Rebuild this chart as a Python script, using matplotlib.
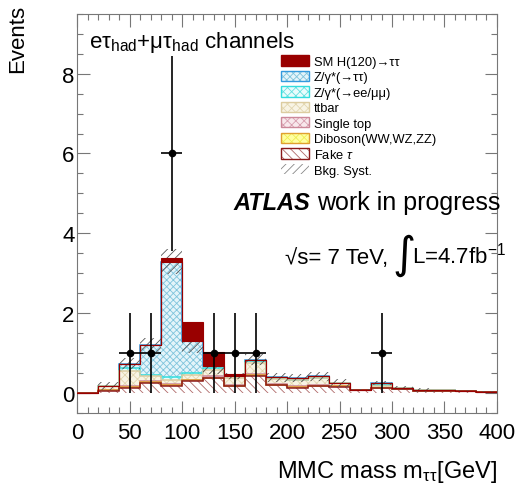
import matplotlib.pyplot as plt
import numpy as np
from matplotlib.patches import Patch
from matplotlib.ticker import MultipleLocator

plt.rcParams['font.family'] = ['Liberation Sans', 'DejaVu Sans']
plt.rcParams['mathtext.fontset'] = 'custom'
plt.rcParams['mathtext.rm'] = 'Liberation Sans'
plt.rcParams['mathtext.it'] = 'Liberation Sans:italic'
plt.rcParams['mathtext.bf'] = 'Liberation Sans:bold'
plt.rcParams['hatch.linewidth'] = 0.6

# Bins de 20 GeV entre 0 y 400
bordes = np.arange(0, 420, 20)

# Eventos esperados por bin (de abajo hacia arriba en el stack)
fake_tau = [0.01, 0.06, 0.13, 0.25, 0.17, 0.30, 0.37, 0.17, 0.44, 0.20,
            0.14, 0.18, 0.16, 0.07, 0.12, 0.10, 0.05, 0.06, 0.05, 0.04]
diboson = [0.00, 0.01, 0.03, 0.03, 0.03, 0.02, 0.02, 0.01, 0.02, 0.01,
           0.01, 0.01, 0.01, 0.00, 0.01, 0.00, 0.00, 0.00, 0.00, 0.00]
single_top = [0.00, 0.01, 0.02, 0.02, 0.02, 0.02, 0.03, 0.02, 0.03, 0.02,
              0.02, 0.02, 0.01, 0.00, 0.01, 0.01, 0.00, 0.00, 0.00, 0.00]
ttbar = [0.00, 0.10, 0.38, 0.12, 0.12, 0.12, 0.15, 0.18, 0.27, 0.12,
         0.15, 0.16, 0.08, 0.01, 0.05, 0.03, 0.04, 0.01, 0.01, 0.00]
z_ll = [0.00, 0.00, 0.06, 0.04, 0.07, 0.04, 0.05, 0.04, 0.05, 0.02,
        0.02, 0.02, 0.00, 0.00, 0.02, 0.00, 0.00, 0.00, 0.00, 0.00]
z_tautau = [0.00, 0.00, 0.12, 0.74, 2.88, 0.81, 0.06, 0.01, 0.03, 0.03,
            0.03, 0.03, 0.00, 0.00, 0.04, 0.00, 0.00, 0.00, 0.00, 0.00]
higgs = [0.00, 0.00, 0.00, 0.00, 0.10, 0.46, 0.34, 0.05, 0.00, 0.00,
         0.00, 0.00, 0.00, 0.00, 0.00, 0.00, 0.00, 0.00, 0.00, 0.00]
# Incertidumbre sistematica del fondo total
syst = [0.00, 0.11, 0.14, 0.18, 0.31, 0.30, 0.20, 0.07, 0.14, 0.11,
        0.10, 0.12, 0.10, 0.02, 0.05, 0.05, 0.05, 0.01, 0.01, 0.01]

# Datos observados
masa_datos = [50, 70, 90, 130, 150, 170, 290]
eventos_datos = [1, 1, 6, 1, 1, 1, 1]

# (valores, relleno, color del patron, patron, linea, etiqueta)
fondos = [
    (fake_tau, 'white', '#b06a6a', '\\\\\\\\', '#8b1a1a', r'Fake $\tau$'),
    (diboson, '#ffffa0', '#eeee55', 'xxxx', '#e0a030', 'Diboson(WW,WZ,ZZ)'),
    (single_top, '#f8e8ec', '#d8a0b0', 'xxxx', '#cc8899', 'Single top'),
    (ttbar, '#f8f4e4', '#e2d6b0', 'xxxx', '#dccca0', 'ttbar'),
    (z_ll, '#e8fcfc', '#66e0e0', 'xxxx', '#33dddd', 'Z/γ*(→ee/μμ)'),
    (z_tautau, '#e4f4fa', '#80c4dc', 'xxxxx', '#3399dd', 'Z/γ*(→ττ)'),
]

fig = plt.figure(figsize=(5.16, 4.89), dpi=100)
ax = fig.add_axes([0.150, 0.153, 0.813, 0.817])

base = np.zeros(len(bordes) - 1)
tapas = []
for valores, relleno, c_patron, patron, c_linea, _ in fondos:
    arriba = base + np.array(valores)
    ax.stairs(arriba, bordes, baseline=base, fill=True, facecolor=relleno,
              edgecolor=c_patron, hatch=patron, linewidth=0, zorder=2)
    tapas.append((arriba, c_linea))
    base = arriba
# Contornos de arriba hacia abajo, como en un THStack
for arriba, c_linea in reversed(tapas):
    ax.stairs(arriba, bordes, baseline=None, color=c_linea, linewidth=1.1, zorder=3)

fondo_total = base
# Banda de sistematica
ax.stairs(fondo_total + np.array(syst), bordes, baseline=fondo_total - np.array(syst),
          fill=True, facecolor='none', edgecolor='#555555', hatch='////',
          linewidth=0, zorder=4)

# Senal SM H(120) encima del fondo
ax.stairs(fondo_total + np.array(higgs), bordes, baseline=fondo_total, fill=True,
          facecolor='#990000', edgecolor='#990000', linewidth=0.8, zorder=5)

ax.errorbar(masa_datos, eventos_datos, yerr=np.sqrt(eventos_datos), xerr=10,
            fmt='o', color='black', ms=4.5, elinewidth=1.2, capsize=0, zorder=10)

ax.set_xlim(0, 400)
ax.set_ylim(-0.5, 9.5)
ax.xaxis.set_major_locator(MultipleLocator(50))
ax.xaxis.set_minor_locator(MultipleLocator(10))
ax.yaxis.set_major_locator(MultipleLocator(2))
ax.yaxis.set_minor_locator(MultipleLocator(0.5))
ax.tick_params(which='both', direction='in', top=True, right=True,
               color='#777777', width=0.8, labelsize=16)
ax.tick_params(which='major', length=9)
ax.tick_params(which='minor', length=4.5)
ax.tick_params(axis='x', pad=6)
ax.tick_params(axis='y', pad=2)
for lado in ax.spines.values():
    lado.set_color('#777777')
    lado.set_linewidth(0.8)

# Titulos de ejes
fig.text(0.963, 0.0225, r'MMC mass m$_{\mathrm{ττ}}$[GeV]', ha='right',
         va='baseline', fontsize=17)
fig.text(0.035, 0.99, 'Events', rotation=90, ha='center', va='top', fontsize=16)

# Textos dentro del grafico
ax.text(0.028, 0.916, r'eτ$_{\mathrm{had}}$+μτ$_{\mathrm{had}}$ channels',
        transform=ax.transAxes, fontsize=16, va='baseline')
ax.text(0.554, 0.511, 'ATLAS', transform=ax.transAxes, fontsize=17,
        fontweight='bold', fontstyle='italic', ha='right', va='baseline')
ax.text(0.572, 0.511, 'work in progress', transform=ax.transAxes, fontsize=18,
        va='baseline')
ax.text(0.495, 0.377, '√s= 7 TeV,', transform=ax.transAxes, fontsize=16,
        va='baseline')
ax.text(0.778, 0.366, '∫', transform=ax.transAxes, fontsize=32, ha='center',
        va='baseline', family='DejaVu Sans')
ax.text(0.797, 0.377, r'L=4.7fb$^{\mathrm{-1}}$', transform=ax.transAxes,
        fontsize=16, va='baseline')

# Leyenda
manijas = [Patch(facecolor='#990000', edgecolor='#990000')]
etiquetas = ['SM H(120)→ττ']
for valores, relleno, c_patron, patron, c_linea, etiqueta in reversed(fondos):
    manijas.append((Patch(facecolor=relleno, edgecolor=c_patron, hatch=patron, linewidth=0),
                    Patch(fill=False, edgecolor=c_linea, linewidth=1.0)))
    etiquetas.append(etiqueta)
manijas.append(Patch(facecolor='white', edgecolor='#888888', hatch='////', linewidth=0))
etiquetas.append('Bkg. Syst.')

ax.legend(manijas, etiquetas, loc='upper left', bbox_to_anchor=(0.47, 0.912),
          frameon=False, fontsize=9.3, handlelength=2.17, handleheight=0.85,
          labelspacing=0.22, handletextpad=0.39, borderpad=0)

fig.savefig('out.png', dpi=100)
